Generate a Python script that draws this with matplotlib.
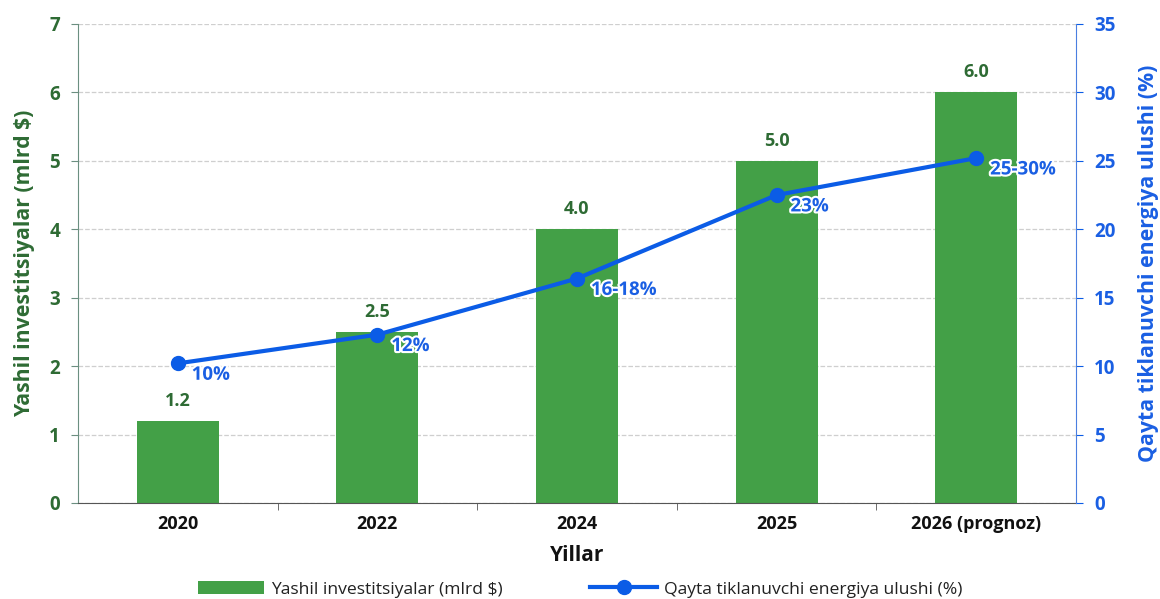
import matplotlib.pyplot as plt
import matplotlib.patheffects as pe
import numpy as np

plt.rcParams["font.family"] = ["Open Sans", "DejaVu Sans"]

yillar = ["2020", "2022", "2024", "2025", "2026 (prognoz)"]
investitsiyalar = [1.2, 2.5, 4.0, 5.0, 6.0]
ulush = [10.2, 12.3, 16.4, 22.5, 25.2]
ulush_yorliq = ["10%", "12%", "16-18%", "23%", "25-30%"]

yashil = "#43a047"
yashil_matn = "#2e6b34"
kok = "#0b5ce6"
kok_matn = "#1a5fe3"

fig = plt.figure(figsize=(11.6, 5.99), dpi=100)
ax = fig.add_axes([0.0672, 0.1603, 0.8604, 0.7997])
x = np.arange(len(yillar))

bars = ax.bar(x, investitsiyalar, width=0.41, color=yashil, zorder=2,
              label="Yashil investitsiyalar (mlrd $)")
for xi, v in zip(x, investitsiyalar):
    ax.annotate(f"{v:.1f}", (xi, v), xytext=(0, 8), textcoords="offset points",
                ha="center", va="bottom", fontsize=13, fontweight="bold",
                color=yashil_matn)

ax.set_xlim(-0.5, len(yillar) - 0.5)
ax.set_ylim(0, 7)
ax.set_yticks(range(0, 8))
ax.set_xticks(x)
ax.set_xticklabels(yillar, fontsize=13, fontweight="bold", color="#111111")
ax.set_xticks(np.arange(0.5, len(yillar) - 0.5, 1), minor=True)
ax.tick_params(axis="x", which="major", length=0, pad=9)
ax.tick_params(axis="x", which="minor", length=5, color="#555555")
ax.tick_params(axis="y", labelsize=13.5, labelcolor=yashil_matn, color="#6b8f80",
               length=5, pad=8)
for lab in ax.get_yticklabels():
    lab.set_fontweight("bold")
ax.grid(axis="y", linestyle="--", color="#cfcfcf", linewidth=0.9, zorder=0)
ax.set_axisbelow(True)
ax.spines["top"].set_visible(False)
ax.spines["right"].set_visible(False)
ax.spines["left"].set_color("#6b8f80")
ax.spines["bottom"].set_color("#555555")
ax.set_ylabel("Yashil investitsiyalar (mlrd $)", fontsize=15.3, fontweight="bold",
              color=yashil_matn, labelpad=10)
ax.set_xlabel("Yillar", fontsize=15, fontweight="bold", color="#111111", labelpad=8)

ax2 = ax.twinx()
ax2.set_ylim(0, 35)
ax2.set_yticks(range(0, 36, 5))
line, = ax2.plot(x, ulush, color=kok, linewidth=3, marker="o", markersize=10,
                 zorder=3, label="Qayta tiklanuvchi energiya ulushi (%)")
for xi, v, t in zip(x, ulush, ulush_yorliq):
    ax2.annotate(t, (xi, v), xytext=(10, -1), textcoords="offset points",
                 ha="left", va="top", fontsize=13.5, fontweight="bold", color=kok_matn,
                 path_effects=[pe.withStroke(linewidth=3, foreground="white")])
ax2.tick_params(axis="y", labelsize=13.5, labelcolor=kok_matn, color=kok, length=5, pad=8)
for lab in ax2.get_yticklabels():
    lab.set_fontweight("bold")
for s in ["top", "left", "bottom"]:
    ax2.spines[s].set_visible(False)
ax2.spines["right"].set_color("#4a7fe0")
ax2.set_ylabel("Qayta tiklanuvchi energiya ulushi (%)", fontsize=15.3,
               fontweight="bold", color=kok_matn, labelpad=16)

fig.legend([bars, line], [bars.get_label(), line.get_label()], loc="center",
           bbox_to_anchor=(0.5, 0.016), ncol=2, frameon=False, fontsize=12.6,
           handlelength=3.8, handletextpad=0.4, columnspacing=5,
           labelcolor="#222222")

fig.savefig("out.png", dpi=100)
